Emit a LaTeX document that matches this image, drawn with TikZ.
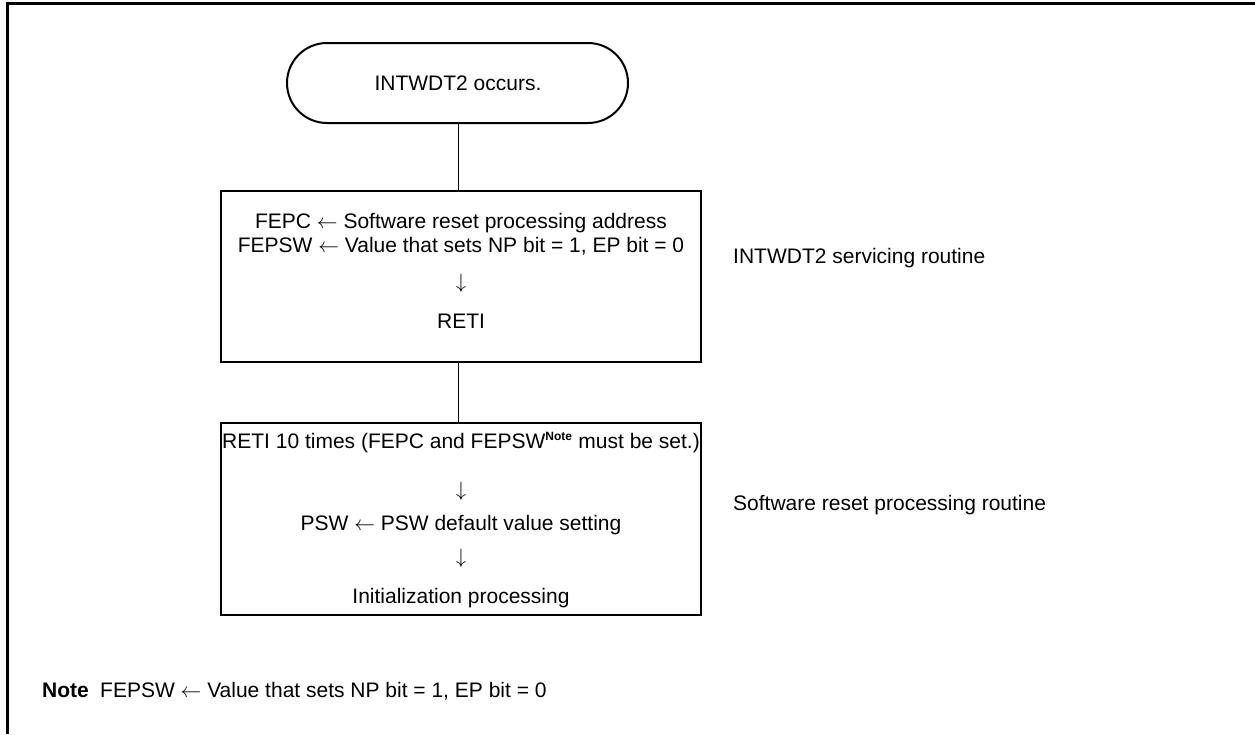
\documentclass[tikz,border=0pt]{standalone}
\usepackage{fontspec}
\setmainfont{Liberation Sans}
\begin{document}
\begin{tikzpicture}[x=1pt,y=-1pt,
  txt/.style={anchor=base,inner sep=0pt,font=\fontsize{21}{25}\selectfont},
  lbl/.style={anchor=base west,inner sep=0pt,font=\fontsize{21}{25}\selectfont},
  boxx/.style={draw,line width=2pt,inner sep=0pt},
  conn/.style={draw,line width=1pt}]
\useasboundingbox (0,0) rectangle (1255,734);
% frame
\draw[line width=3.2pt] (7.5,734) -- (7.5,3.5) -- (1255,3.5);
% terminal
\node[draw,line width=2pt,minimum width=341pt,minimum height=80pt,rounded corners=40pt,inner sep=0pt] (start) at (457.5,83) {};
\node[txt] (starttxt) at (458,90.5) {INTWDT2 occurs.};
% box 1
\path (221,191) coordinate (b1nw) (701,362) coordinate (b1se);
\node[boxx,fit/.style={},minimum width=480pt,minimum height=171pt] (box1) at (461,276.5) {};
\node[txt] (l11) at (461,228.5) {FEPC $\leftarrow$ Software reset processing address};
\node[txt] (l12) at (461,252.5) {FEPSW $\leftarrow$ Value that sets NP bit = 1, EP bit = 0};
\node[txt] (l13) at (461,288) {$\downarrow$};
\node[txt] (l14) at (461,328) {RETI};
% box 2
\node[boxx,minimum width=480pt,minimum height=192pt] (box2) at (461,519) {};
\node[txt] (l21) at (461,448.5) {RETI 10 times (FEPC and FEPSW\textsuperscript{\bfseries\fontsize{12}{12}\selectfont Note} must be set.)};
\node[txt] (l22) at (461,496) {$\downarrow$};
\node[txt] (l23) at (461,530) {PSW $\leftarrow$ PSW default value setting};
\node[txt] (l24) at (461,563) {$\downarrow$};
\node[txt] (l25) at (461,603.5) {Initialization processing};
% connectors
\draw[conn] (start.south -| 458,0) -- (box1.north -| 458,0);
\draw[conn] (box1.south -| 458,0) -- (box2.north -| 458,0);
% side labels
\node[lbl] (r1) at (733,263.5) {INTWDT2 servicing routine};
\node[lbl] (r2) at (733,510.5) {Software reset processing routine};
% note
\node[lbl,font=\fontsize{21}{25}\selectfont\bfseries] (nt) at (42,697.5) {Note};
\node[lbl] (ntxt) at (100,697.5) {FEPSW $\leftarrow$ Value that sets NP bit = 1, EP bit = 0};
\end{tikzpicture}
\end{document}
